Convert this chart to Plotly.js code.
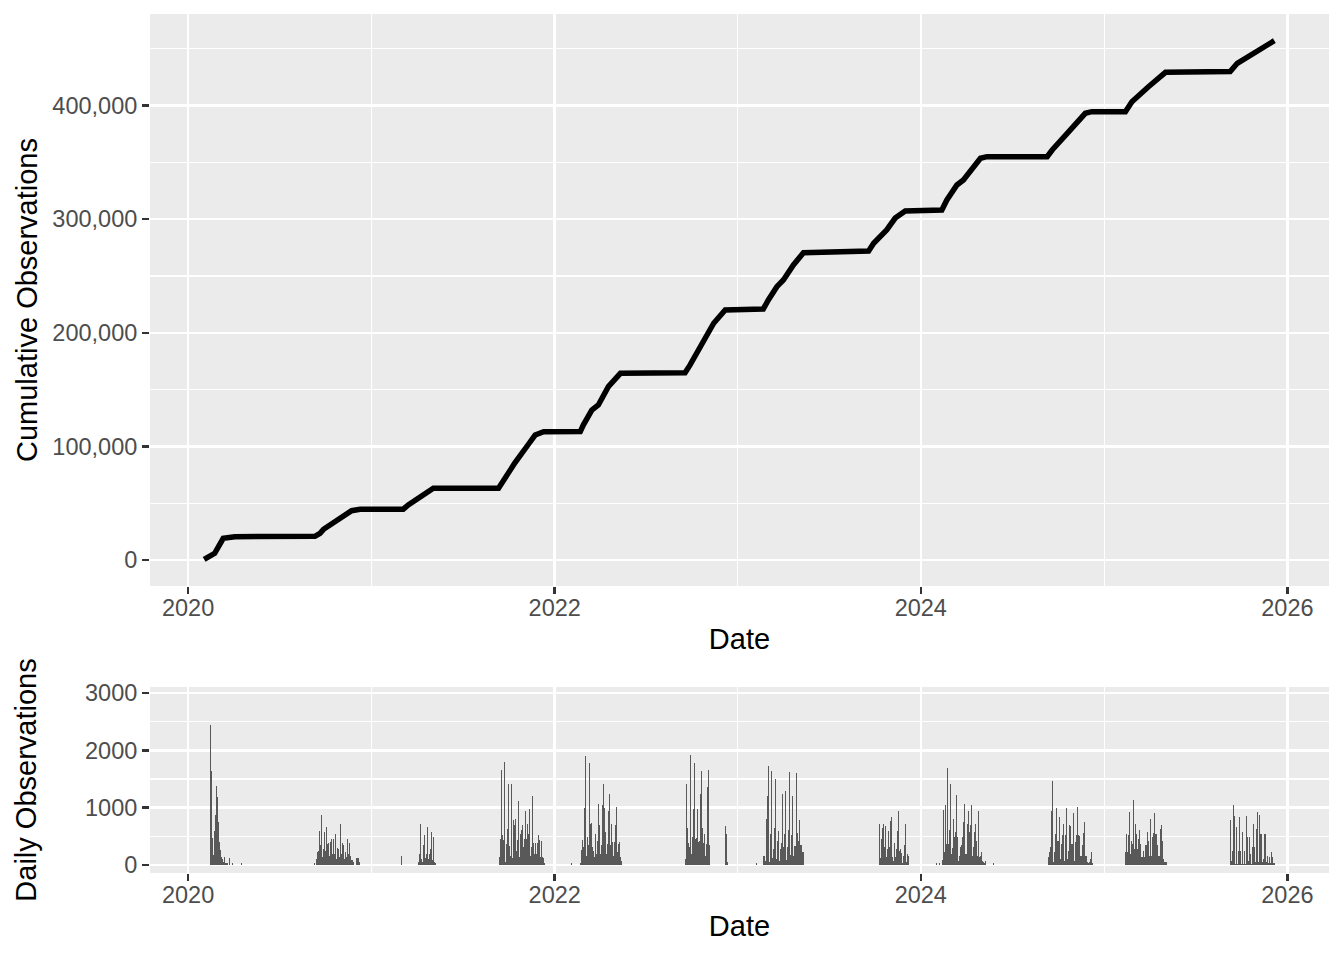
<!DOCTYPE html>
<html>
<head>
<meta charset="utf-8">
<script src="https://cdn.plot.ly/plotly-3.0.1.min.js"></script>
<style>html,body{margin:0;padding:0;background:#fff;}#chart{width:1344px;height:960px;}</style>
</head>
<body>
<div id="chart"></div>
<script>
// ---- Cumulative observations ----
const cumDates = [
  '2020-02-02','2020-02-13','2020-02-23','2020-03-11','2020-04-03',
  '2020-09-10','2020-09-20','2020-09-27','2020-10-27','2020-11-22','2020-12-09',
  '2021-03-05','2021-03-15','2021-04-11','2021-05-04',
  '2021-09-11','2021-09-21','2021-10-14','2021-11-10','2021-11-23','2021-12-10',
  '2022-02-21','2022-02-27','2022-03-16','2022-03-29','2022-04-18','2022-05-12',
  '2022-09-18','2022-09-28','2022-10-18','2022-11-14','2022-12-07',
  '2023-02-21','2023-03-03','2023-03-20','2023-04-02','2023-04-22','2023-05-12',
  '2023-09-19','2023-09-29','2023-10-25','2023-11-11','2023-12-01',
  '2024-02-12','2024-02-22','2024-03-13','2024-03-26','2024-04-29','2024-05-12',
  '2024-09-09','2024-09-19','2024-10-19','2024-11-24','2024-12-07',
  '2025-02-12','2025-02-25','2025-03-14','2025-03-30','2025-05-03',
  '2025-09-09','2025-09-23','2025-10-19','2025-11-18','2025-12-06'
];
const cumValues = [
  500,2900,5900,19100,20500,
  20800,23500,27000,35200,43400,44600,
  44700,48400,56300,63100,
  63200,70400,85700,102100,110000,112900,
  113000,118800,132000,136400,152600,164300,
  164900,171700,187800,208400,220100,
  221000,228900,240600,246500,259700,270500,
  272000,278800,290500,301000,307200,
  308100,316900,330100,334500,353600,355000,
  355000,360900,375600,393200,394600,
  394600,403400,410800,416600,429300,
  429900,437200,444500,453400,457100
];

// ---- Daily observations ----
const dailyDates = [
  // spring 2020
  '2020-02-15','2020-02-17','2020-02-19','2020-02-21','2020-02-23','2020-02-25','2020-02-27','2020-02-29',
  '2020-03-02','2020-03-04','2020-03-06','2020-03-08','2020-03-10','2020-03-12','2020-03-14','2020-03-16',
  '2020-03-18','2020-03-20','2020-03-24','2020-03-30','2020-04-17',
  // autumn 2020
  '2020-09-09',
  '2020-09-13','2020-09-15','2020-09-17','2020-09-19','2020-09-21','2020-09-23','2020-09-25','2020-09-27','2020-09-29',
  '2020-10-01','2020-10-03','2020-10-05','2020-10-07','2020-10-09','2020-10-11','2020-10-13','2020-10-15',
  '2020-10-17','2020-10-19','2020-10-21','2020-10-23','2020-10-25','2020-10-27','2020-10-29','2020-10-31',
  '2020-11-02','2020-11-04','2020-11-06','2020-11-08','2020-11-10','2020-11-12','2020-11-14','2020-11-16',
  '2020-11-18','2020-11-20','2020-11-22','2020-11-24','2020-11-26',
  '2020-12-02','2020-12-04','2020-12-06','2020-12-08',
  // spring 2021
  '2021-03-02',
  '2021-04-04','2021-04-06','2021-04-08','2021-04-10','2021-04-12','2021-04-14','2021-04-16','2021-04-18',
  '2021-04-20','2021-04-22','2021-04-24','2021-04-26','2021-04-28','2021-04-30',
  '2021-05-02','2021-05-04','2021-05-06','2021-05-08',
  // autumn 2021
  '2021-09-13','2021-09-15','2021-09-17','2021-09-19','2021-09-21','2021-09-23','2021-09-25','2021-09-27','2021-09-29',
  '2021-10-01','2021-10-03','2021-10-05','2021-10-07','2021-10-09','2021-10-11','2021-10-13','2021-10-15',
  '2021-10-17','2021-10-19','2021-10-21','2021-10-23','2021-10-25','2021-10-27','2021-10-29','2021-10-31',
  '2021-11-02','2021-11-04','2021-11-06','2021-11-08','2021-11-10','2021-11-12','2021-11-14','2021-11-16',
  '2021-11-18','2021-11-20','2021-11-22','2021-11-24','2021-11-26','2021-11-28','2021-11-30',
  '2021-12-02','2021-12-04','2021-12-06','2021-12-08','2021-12-10','2021-12-12',
  // spring 2022
  '2022-02-04',
  '2022-02-22','2022-02-24','2022-02-26','2022-02-28',
  '2022-03-02','2022-03-04','2022-03-06','2022-03-08','2022-03-10','2022-03-12','2022-03-14','2022-03-16',
  '2022-03-18','2022-03-20','2022-03-22','2022-03-24','2022-03-26','2022-03-28','2022-03-30',
  '2022-04-01','2022-04-03','2022-04-05','2022-04-07','2022-04-09','2022-04-11','2022-04-13','2022-04-15',
  '2022-04-17','2022-04-19','2022-04-21','2022-04-23','2022-04-25','2022-04-27','2022-04-29',
  '2022-05-01','2022-05-03','2022-05-05','2022-05-07','2022-05-09','2022-05-11','2022-05-13','2022-05-15',
  // autumn 2022
  '2022-09-19','2022-09-21','2022-09-23','2022-09-25','2022-09-27','2022-09-29',
  '2022-10-01','2022-10-03','2022-10-05','2022-10-07','2022-10-09','2022-10-11','2022-10-13','2022-10-15',
  '2022-10-17','2022-10-19','2022-10-21','2022-10-23','2022-10-25','2022-10-27','2022-10-29','2022-10-31',
  '2022-11-02','2022-11-04','2022-11-06',
  '2022-12-07','2022-12-09','2022-12-11',
  // spring 2023
  '2023-02-07',
  '2023-02-21','2023-02-23','2023-02-25','2023-02-27',
  '2023-03-01','2023-03-03','2023-03-05','2023-03-07','2023-03-09','2023-03-11','2023-03-13','2023-03-15',
  '2023-03-17','2023-03-19','2023-03-21','2023-03-23','2023-03-25','2023-03-27','2023-03-29','2023-03-31',
  '2023-04-02','2023-04-04','2023-04-06','2023-04-08','2023-04-10','2023-04-12','2023-04-14','2023-04-16',
  '2023-04-18','2023-04-20','2023-04-22','2023-04-24','2023-04-26','2023-04-28','2023-04-30',
  '2023-05-02','2023-05-04','2023-05-06','2023-05-08','2023-05-10','2023-05-12',
  // autumn 2023
  '2023-10-10','2023-10-12','2023-10-14','2023-10-16','2023-10-18','2023-10-20','2023-10-22','2023-10-24',
  '2023-10-26','2023-10-28','2023-10-30',
  '2023-11-01','2023-11-03','2023-11-05','2023-11-07','2023-11-09','2023-11-11','2023-11-13','2023-11-15',
  '2023-11-17','2023-11-19','2023-11-21','2023-11-23','2023-11-25','2023-11-27','2023-11-29',
  '2023-12-01','2023-12-03','2023-12-05','2023-12-07',
  // spring 2024
  '2024-02-02','2024-02-08',
  '2024-02-13','2024-02-15','2024-02-17','2024-02-19','2024-02-21','2024-02-23','2024-02-25','2024-02-27','2024-02-29',
  '2024-03-02','2024-03-04','2024-03-06','2024-03-08','2024-03-10','2024-03-12','2024-03-14','2024-03-16',
  '2024-03-18','2024-03-20','2024-03-22','2024-03-24','2024-03-26','2024-03-28','2024-03-30',
  '2024-04-01','2024-04-03','2024-04-05','2024-04-07','2024-04-09','2024-04-11','2024-04-13','2024-04-15',
  '2024-04-17','2024-04-19','2024-04-21','2024-04-23','2024-04-25','2024-04-27','2024-04-29',
  '2024-05-01','2024-05-03','2024-05-05','2024-05-07','2024-05-09','2024-05-25',
  // autumn 2024
  '2024-09-11','2024-09-13','2024-09-15','2024-09-17','2024-09-19','2024-09-21','2024-09-23','2024-09-25',
  '2024-09-27','2024-09-29',
  '2024-10-01','2024-10-03','2024-10-05','2024-10-07','2024-10-09','2024-10-11','2024-10-13','2024-10-15',
  '2024-10-17','2024-10-19','2024-10-21','2024-10-23','2024-10-25','2024-10-27','2024-10-29','2024-10-31',
  '2024-11-02','2024-11-04','2024-11-06','2024-11-08','2024-11-10','2024-11-12','2024-11-14','2024-11-16',
  '2024-11-18','2024-11-20','2024-11-22','2024-11-24','2024-11-26','2024-11-28','2024-11-30',
  '2024-12-02','2024-12-04','2024-12-06','2024-12-08',
  // spring 2025
  '2025-02-12','2025-02-14','2025-02-16','2025-02-18','2025-02-20','2025-02-22','2025-02-24','2025-02-26','2025-02-28',
  '2025-03-02','2025-03-04','2025-03-06','2025-03-08','2025-03-10','2025-03-12','2025-03-14','2025-03-16',
  '2025-03-18','2025-03-20','2025-03-22','2025-03-24','2025-03-26','2025-03-28','2025-03-30',
  '2025-04-01','2025-04-03','2025-04-05','2025-04-07','2025-04-09','2025-04-11','2025-04-13','2025-04-15',
  '2025-04-17','2025-04-19','2025-04-21','2025-04-23','2025-04-25','2025-04-27','2025-04-29',
  '2025-05-01','2025-05-03','2025-05-05',
  // autumn 2025
  '2025-09-10','2025-09-12','2025-09-14','2025-09-16','2025-09-18','2025-09-20','2025-09-22','2025-09-24',
  '2025-09-26','2025-09-28','2025-09-30',
  '2025-10-02','2025-10-04','2025-10-06','2025-10-08','2025-10-10','2025-10-12','2025-10-14','2025-10-16',
  '2025-10-18','2025-10-20','2025-10-22','2025-10-24','2025-10-26','2025-10-28','2025-10-30',
  '2025-11-01','2025-11-03','2025-11-05','2025-11-07','2025-11-09','2025-11-11','2025-11-13','2025-11-15',
  '2025-11-17','2025-11-19','2025-11-21','2025-11-23','2025-11-25','2025-11-27','2025-11-29',
  '2025-12-01','2025-12-03','2025-12-05','2025-12-07'
];
const dailyCounts = [
  // spring 2020
  2450,1640,470,180,600,870,1380,1190,
  750,400,260,140,100,60,140,30,
  30,30,120,30,30,
  // autumn 2020
  30,
  105,230,240,600,340,870,140,280,570,
  250,670,370,380,160,400,460,190,
  460,190,540,110,290,280,140,710,
  190,390,340,110,230,140,460,190,
  390,160,90,80,60,
  130,130,130,60,
  // spring 2021
  150,
  50,190,720,105,50,340,530,120,
  190,660,105,190,280,570,
  80,485,60,30,
  // autumn 2021
  135,460,1650,515,430,1790,50,360,620,
  1420,330,160,1410,120,780,690,810,
  250,430,1110,135,540,610,690,310,
  460,940,460,710,540,980,150,310,
  1200,390,190,390,190,390,515,
  430,135,410,135,120,30,
  // spring 2022
  30,
  30,270,440,310,
  995,1900,150,485,357,1785,720,737,
  310,250,135,544,193,427,1060,
  702,193,357,1040,1420,995,573,193,
  368,940,1245,340,720,400,164,
  400,702,1010,222,368,400,135,76,
  // autumn 2022
  105,1410,643,386,310,1920,
  193,485,971,1785,456,474,971,400,
  427,1245,1644,643,386,544,164,368,
  1363,1655,357,
  673,544,58,
  // spring 2023
  30,
  150,164,76,796,
  1200,1725,60,544,1638,123,280,650,
  1498,105,427,585,64,280,386,1234,
  310,532,1287,88,322,603,1620,181,
  515,1200,164,328,328,1597,562,
  427,778,340,340,222,222,
  // autumn 2023
  708,117,456,650,708,310,673,135,
  280,591,310,
  766,836,135,76,386,146,280,585,
  936,250,280,205,30,164,357,
  708,47,193,152,
  // spring 2024
  30,30,
  88,954,222,1040,368,1700,368,603,1420,
  193,292,796,485,573,1228,485,76,
  164,310,340,485,749,1060,193,
  193,708,936,573,702,1040,164,310,
  573,708,427,164,936,135,152,
  222,76,47,30,76,30,
  // autumn 2024
  146,222,310,936,1462,58,222,544,
  995,410,
  410,836,105,368,515,720,76,515,
  995,105,240,690,673,368,368,907,
  76,400,515,1010,515,497,152,152,
  340,562,749,164,164,47,30,
  47,105,234,30,
  // spring 2025
  222,532,222,527,924,193,427,368,1129,
  280,708,532,280,456,603,368,135,
  146,250,135,351,351,573,427,
  152,796,152,485,562,913,544,544,
  351,164,164,632,690,427,105,
  47,47,58,
  // autumn 2025
  778,76,240,1053,848,18,660,18,
  250,836,250,
  18,573,18,250,18,848,485,76,
  485,193,18,310,720,310,47,
  632,924,47,866,544,532,47,105,
  532,532,47,164,30,135,30,
  234,135,30,30
];

// ---- Axis settings ----
const xRange = ['2019-10-17', '2026-03-25'];
const cumRange = [-22900, 480600];
const dailyRange = [-140, 3105];

const tickFont = {family: 'Liberation Sans, Arial, sans-serif', size: 23.5, color: '#4D4D4D'};
const titleFont = {family: 'Liberation Sans, Arial, sans-serif', size: 29, color: '#000000'};

function xAxis(anchor) {
  return {
    type: 'date', anchor: anchor, domain: [0, 1], range: xRange,
    tick0: '2020-01-01', dtick: 'M24', tickformat: '%Y',
    ticks: 'outside', ticklen: 7, tickwidth: 2.5, tickcolor: '#333333',
    tickfont: tickFont, ticklabelstandoff: -6,
    showgrid: true, gridcolor: '#FFFFFF', gridwidth: 2.5,
    minor: {tick0: '2021-01-01', dtick: 'M24', showgrid: true, gridcolor: '#FFFFFF', gridwidth: 1.3, ticks: ''},
    zeroline: false, showline: false,
    title: {text: 'Date', font: titleFont, standoff: 8}
  };
}

const traces = [
  {
    type: 'scatter', mode: 'lines', x: cumDates, y: cumValues,
    xaxis: 'x', yaxis: 'y',
    line: {color: '#000000', width: 5.5},
    hoverinfo: 'x+y'
  },
  {
    type: 'bar', x: dailyDates, y: dailyCounts,
    xaxis: 'x2', yaxis: 'y2',
    width: 172800000,
    marker: {color: '#595959', line: {width: 0}},
    hoverinfo: 'x+y'
  }
];

const layout = {
  width: 1344, height: 960,
  paper_bgcolor: '#FFFFFF', plot_bgcolor: '#EBEBEB',
  margin: {l: 150, r: 15, t: 14, b: 87},
  showlegend: false,
  bargap: 0,
  font: {family: 'Liberation Sans, Arial, sans-serif'},
  xaxis: xAxis('y'),
  xaxis2: xAxis('y2'),
  yaxis: {
    domain: [0.3341, 1], anchor: 'x', range: cumRange,
    tick0: 0, dtick: 100000, tickformat: ',d',
    ticks: 'outside', ticklen: 7, tickwidth: 2.5, tickcolor: '#333333',
    tickfont: tickFont,
    showgrid: true, gridcolor: '#FFFFFF', gridwidth: 2.5,
    minor: {tick0: 50000, dtick: 100000, showgrid: true, gridcolor: '#FFFFFF', gridwidth: 1.3, ticks: ''},
    zeroline: false, showline: false,
    title: {text: 'Cumulative Observations', font: titleFont, standoff: 6}
  },
  yaxis2: {
    domain: [0, 0.2165], anchor: 'x2', range: dailyRange,
    tick0: 0, dtick: 1000, tickformat: 'd',
    ticks: 'outside', ticklen: 7, tickwidth: 2.5, tickcolor: '#333333',
    tickfont: tickFont,
    showgrid: true, gridcolor: '#FFFFFF', gridwidth: 2.5,
    minor: {tick0: 500, dtick: 1000, showgrid: true, gridcolor: '#FFFFFF', gridwidth: 1.3, ticks: ''},
    zeroline: false, showline: false,
    title: {text: 'Daily Observations', font: titleFont, standoff: 39}
  }
};

Plotly.newPlot('chart', traces, layout, {displayModeBar: false, staticPlot: true});
</script>
</body>
</html>
